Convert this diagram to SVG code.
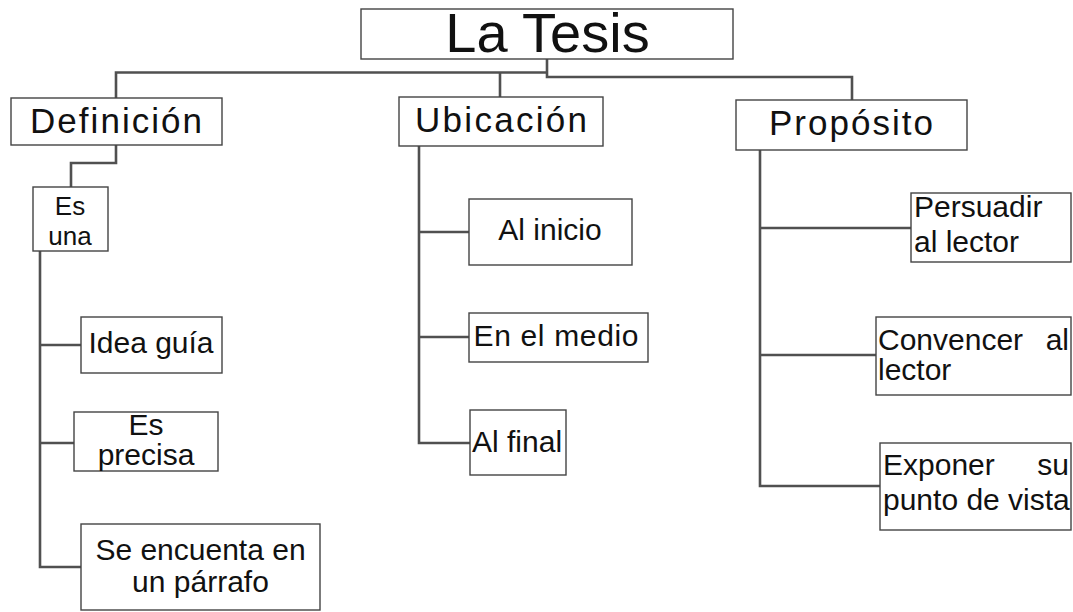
<svg xmlns="http://www.w3.org/2000/svg" width="1073" height="612" viewBox="0 0 1073 612">
<style>
.box{fill:#ffffff;stroke:#444444;stroke-width:1.4}
.t{font-family:"Liberation Sans",Arial,sans-serif;fill:#111111}
.title{font-size:56px}
.main{font-size:35px}
.leaf{font-size:30px}
.small{font-size:26px}
.c{text-anchor:middle}
.e{text-anchor:end}
.conn{fill:none;stroke:#505050;stroke-width:2.6}
</style>
<rect width="1073" height="612" fill="#ffffff"/>
<g id="connectors">
<path class="conn" d="M116,98 V72.5 H547"/>
<path class="conn" d="M547,59 V77 H852 V100"/>
<path class="conn" d="M500,72.5 V97"/>
<path class="conn" d="M116,145 V163 H71 V187"/>
<path class="conn" d="M40,251 V567 H81"/>
<path class="conn" d="M40,345 H81"/>
<path class="conn" d="M40,443 H74"/>
<path class="conn" d="M419,146 V443 H470"/>
<path class="conn" d="M419,232 H469"/>
<path class="conn" d="M419,337 H469"/>
<path class="conn" d="M760,150 V486 H880"/>
<path class="conn" d="M760,228 H911"/>
<path class="conn" d="M760,355 H876"/>
</g>
<g id="la-tesis">
<rect class="box" x="361" y="9" width="372" height="50"/>
<text class="t title c" x="547.5" y="52">La Tesis</text>
</g>
<g id="definicion">
<rect class="box" x="11" y="98" width="211" height="47"/>
<text class="t main c" x="116" y="133" textLength="172" lengthAdjust="spacing">Definición</text>
</g>
<g id="ubicacion">
<rect class="box" x="399" y="97" width="204" height="49"/>
<text class="t main c" x="501" y="132" textLength="172" lengthAdjust="spacing">Ubicación</text>
</g>
<g id="proposito">
<rect class="box" x="736" y="100" width="231" height="50"/>
<text class="t main c" x="851" y="135" textLength="164" lengthAdjust="spacing">Propósito</text>
</g>
<g id="es-una">
<rect class="box" x="33" y="187" width="75" height="64"/>
<text class="t small c" x="70" y="215">Es</text>
<text class="t small c" x="70" y="245">una</text>
</g>
<g id="idea-guia">
<rect class="box" x="81" y="317" width="141" height="56"/>
<text class="t leaf c" x="151" y="353">Idea guía</text>
</g>
<g id="es-precisa">
<rect class="box" x="74" y="412" width="144" height="59"/>
<text class="t leaf c" x="146" y="435">Es</text>
<text class="t leaf c" x="146" y="465">precisa</text>
</g>
<g id="se-encuenta">
<rect class="box" x="81" y="524" width="239" height="86"/>
<text class="t leaf c" x="200.5" y="560">Se encuenta en</text>
<text class="t leaf c" x="200.5" y="592">un párrafo</text>
</g>
<g id="al-inicio">
<rect class="box" x="469" y="199" width="163" height="66"/>
<text class="t leaf c" x="550" y="240">Al inicio</text>
</g>
<g id="en-el-medio">
<rect class="box" x="469" y="313" width="179" height="49"/>
<text class="t leaf c" x="556" y="346" textLength="165" lengthAdjust="spacing">En el medio</text>
</g>
<g id="al-final">
<rect class="box" x="470" y="410" width="96" height="65"/>
<text class="t leaf" x="472" y="452">Al final</text>
</g>
<g id="persuadir">
<rect class="box" x="911" y="193" width="160" height="69"/>
<text class="t leaf" x="914" y="217">Persuadir</text>
<text class="t leaf" x="914" y="252">al lector</text>
</g>
<g id="convencer">
<rect class="box" x="876" y="317" width="195" height="78"/>
<text class="t leaf" x="878" y="350">Convencer</text>
<text class="t leaf e" x="1069" y="350">al</text>
<text class="t leaf" x="878" y="380">lector</text>
</g>
<g id="exponer">
<rect class="box" x="880" y="443" width="191" height="87"/>
<text class="t leaf" x="883" y="475">Exponer</text>
<text class="t leaf e" x="1069" y="475">su</text>
<text class="t leaf" x="883" y="510">punto de vista</text>
</g>
</svg>
